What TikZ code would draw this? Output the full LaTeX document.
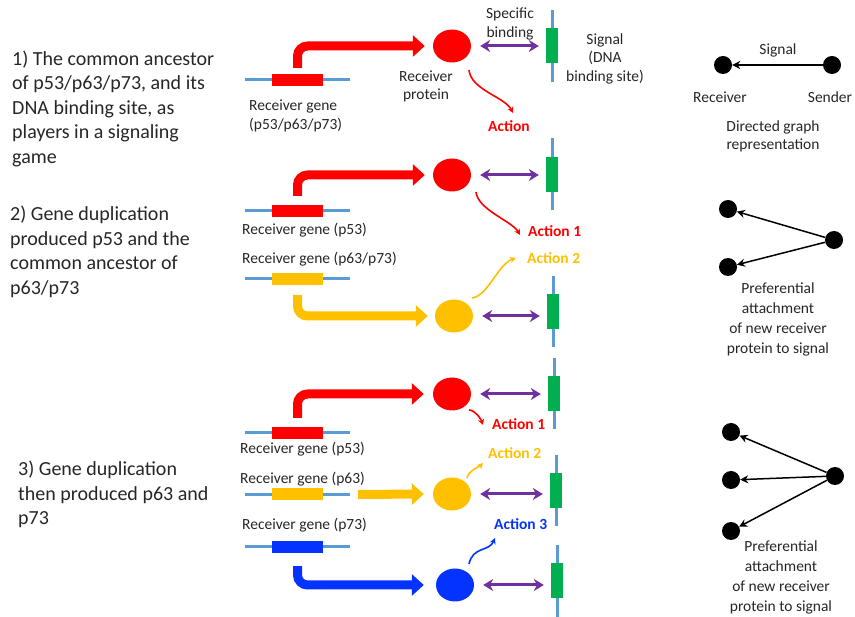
\documentclass[tikz,border=0pt]{standalone}
\usepackage{fontspec}
\setmainfont{Carlito}
\usetikzlibrary{arrows.meta,shapes.geometric}

\definecolor{pred}{HTML}{FF0000}
\definecolor{pyel}{HTML}{FFC000}
\definecolor{pblu}{HTML}{0433FF}
\definecolor{sitegreen}{HTML}{00B050}
\definecolor{dnablue}{HTML}{5B9BD5}
\definecolor{bindpurple}{HTML}{7030A0}
\definecolor{txt}{HTML}{262626}

\tikzset{
  lbl/.style={inner sep=0pt, text=txt, font=\fontsize{15.5}{19}\selectfont},
  bigtxt/.style={inner sep=0pt, text=txt, align=left, anchor=west, font=\fontsize{20}{24.5}\selectfont},
  actlbl/.style={inner sep=0pt, anchor=west, font=\fontsize{15.5}{19}\selectfont\bfseries},
  gene line/.style={dnablue, line width=3pt},
  gene box/.style={rectangle, minimum width=51pt, minimum height=12pt, inner sep=0pt},
  protein/.style={ellipse, minimum width=38pt, minimum height=33pt, inner sep=0pt},
  site/.style={rectangle, fill=sitegreen, minimum width=12pt, minimum height=35pt, inner sep=0pt},
  express/.style={line width=9pt, rounded corners=10pt, -{Triangle[length=12pt,width=21pt]}, shorten <=8pt, shorten >=8pt},
  binding/.style={bindpurple, line width=3pt, {Stealth[length=10pt,width=12pt]}-{Stealth[length=10pt,width=12pt]}, shorten <=9pt, shorten >=7pt},
  act/.style={line width=1.6pt, -{Stealth[length=6pt,width=6pt]}},
  dot/.style={circle, fill=black, minimum size=18pt, inner sep=0pt},
  edge/.style={line width=1.5pt, -{Stealth[length=8pt,width=8pt]}}
}

\begin{document}
\begin{tikzpicture}[x=1pt, y=-1pt]
	\useasboundingbox (0,0) rectangle (855,617);

	% left hand text
	\node[bigtxt] (t1) at (12,108.5) {1) The common ancestor\\of p53/p63/p73, and its\\DNA binding site, as\\players in a signaling\\game};
	\node[bigtxt] (t2) at (10,252) {2) Gene duplication\\produced p53 and the\\common ancestor of\\p63/p73};
	\node[bigtxt] (t3) at (18,494.5) {3) Gene duplication\\then produced p63 and\\p73};

	% genes
	\foreach \n/\c/\y in {1/pred/80, 2/pred/211, 3/pyel/279, 4/pred/433, 5/pyel/494.5, 6/pblu/547}
	{
		\draw[gene line] (245,\y) coordinate (l\n) -- (350,\y) coordinate (r\n);
		\node[gene box, fill=\c] (g\n) at (297.5,\y) {};
	}

	% signals (DNA binding sites)
	\foreach \n/\x/\t/\b/\m in {1/552/10/82/45.5, 2/552/138/210/174.5, 3/553/276/347/311.5, 4/554/358/429/393.5, 5/556/455/526/490.5, 6/557/545/617/580.5}
	{
		\draw[gene line] (\x,\t) -- (\x,\b);
		\node[site] (s\n) at (\x,\m) {};
	}

	% receiver proteins
	\node[protein, fill=pred] (p1) at (452,46) {};
	\node[protein, fill=pred] (p2) at (452,175) {};
	\node[protein, fill=pyel] (p3) at (454,316) {};
	\node[protein, fill=pred] (p4) at (452,394) {};
	\node[protein, fill=pyel] (p5) at (452,494) {};
	\node[protein, fill=pblu] (p6) at (455,585) {};

	% expression
	\draw[express, pred, shorten <=6pt] (g1.north) |- (p1.west);
	\draw[express, pred, shorten <=9pt] (g2.north) |- (p2.west);
	\draw[express, pyel, shorten <=10pt, shorten >=7pt] (g3.south) |- (p3.west);
	\draw[express, pred, shorten <=9pt, shorten >=9pt] (g4.north) |- (p4.west);
	\draw[express, pyel, shorten >=9pt] (r5) -- (p5.west);
	\draw[express, pblu, shorten <=13pt, shorten >=12pt] (g6.south) |- (p6.west);

	% specific binding
	\foreach \n in {1,...,6}
		\draw[binding] (p\n.east) -- (p\n.east -| s\n.west);

	% labels
	\node[lbl, align=center] (spec) at (510,23.5) {Specific\\binding};
	\node[lbl, align=center, font=\fontsize{15.5}{18.5}\selectfont] (siglbl) at (605,58.5) {Signal\\(DNA\\binding site)};
	\node[lbl, align=center, font=\fontsize{15.5}{18}\selectfont] (protlbl) at (426,86) {Receiver\\protein};
	\node[lbl, align=left, anchor=west] (gl1) at (249,115.5) {Receiver gene\\(p53/p63/p73)};
	\node[lbl, anchor=west] (gl2) at (242,230) {Receiver gene (p53)};
	\node[lbl, anchor=west] (gl3) at (242,259) {Receiver gene (p63/p73)};
	\node[lbl, anchor=west] (gl4) at (240,449) {Receiver gene (p53)};
	\node[lbl, anchor=west] (gl5) at (240,479) {Receiver gene (p63)};
	\node[lbl, anchor=west] (gl6) at (242,525) {Receiver gene (p73)};

	% actions
	\node[actlbl, text=pred] (a1) at (488,126) {Action};
	\node[actlbl, text=pred] (a2) at (528,231) {Action 1};
	\node[actlbl, text=pyel] (a3) at (527,258) {Action 2};
	\node[actlbl, text=pred] (a4) at (492,424) {Action 1};
	\node[actlbl, text=pyel] (a5) at (488,453) {Action 2};
	\node[actlbl, text=pblu] (a6) at (494,524) {Action 3};

	\draw[act, pred] ([shift={(17,24)}]p1.center) .. controls +(2,20) and +(-8,-16) .. ([shift={(25,-13)}]a1.west);
	\draw[act, pred] ([shift={(24,17)}]p2.center) .. controls +(2,18) and +(-8,-14) .. ([shift={(-8,4)}]a2.west);
	\draw[act, pyel] ([shift={(18,-18)}]p3.center) .. controls +(16,-2) and +(-18,6) .. ([shift={(-11,0)}]a3.west);
	\draw[act, pred] ([shift={(17,16)}]p4.center) .. controls +(6,0) and +(-2,-6) .. ([shift={(-9,1)}]a4.west);
	\draw[act, pyel] ([shift={(15,-16)}]p5.center) .. controls +(2,-8) and +(-4,4) .. ([shift={(-5,10)}]a5.west);
	\draw[act, pblu] ([shift={(14,-21)}]p6.center) .. controls +(4,-18) and +(-6,14) .. ([shift={(1,14)}]a6.west);

	% directed graphs
	\node[dot] (rc1) at (723,65) {};
	\node[dot] (sd1) at (832,65) {};
	\draw[edge] (sd1) -- (rc1);
	\node[lbl] (g1sig) at (778,50) {Signal};
	\node[lbl] (g1rc) at (720,97) {Receiver};
	\node[lbl] (g1sd) at (830,97) {Sender};
	\node[lbl, align=center, font=\fontsize{15.5}{18}\selectfont] (g1cap) at (773,136) {Directed graph\\representation};

	\node[dot] (rc2) at (728,209) {};
	\node[dot] (rc3) at (728,267) {};
	\node[dot] (sd2) at (834,240) {};
	\draw[edge] (sd2) -- (rc2);
	\draw[edge] (sd2) -- (rc3);
	\node[lbl, align=center, font=\fontsize{15.5}{20}\selectfont] (g2cap) at (778,319) {Preferential\\attachment\\of new receiver\\protein to signal};

	\node[dot] (rc4) at (731,432) {};
	\node[dot] (rc5) at (731,480) {};
	\node[dot] (rc6) at (731,531) {};
	\node[dot] (sd3) at (835,476) {};
	\foreach \r in {4,5,6}
		\draw[edge] (sd3) -- (rc\r);
	\node[lbl, align=center, font=\fontsize{15.5}{20}\selectfont] (g3cap) at (781,577.5) {Preferential\\attachment\\of new receiver\\protein to signal};
\end{tikzpicture}
\end{document}
